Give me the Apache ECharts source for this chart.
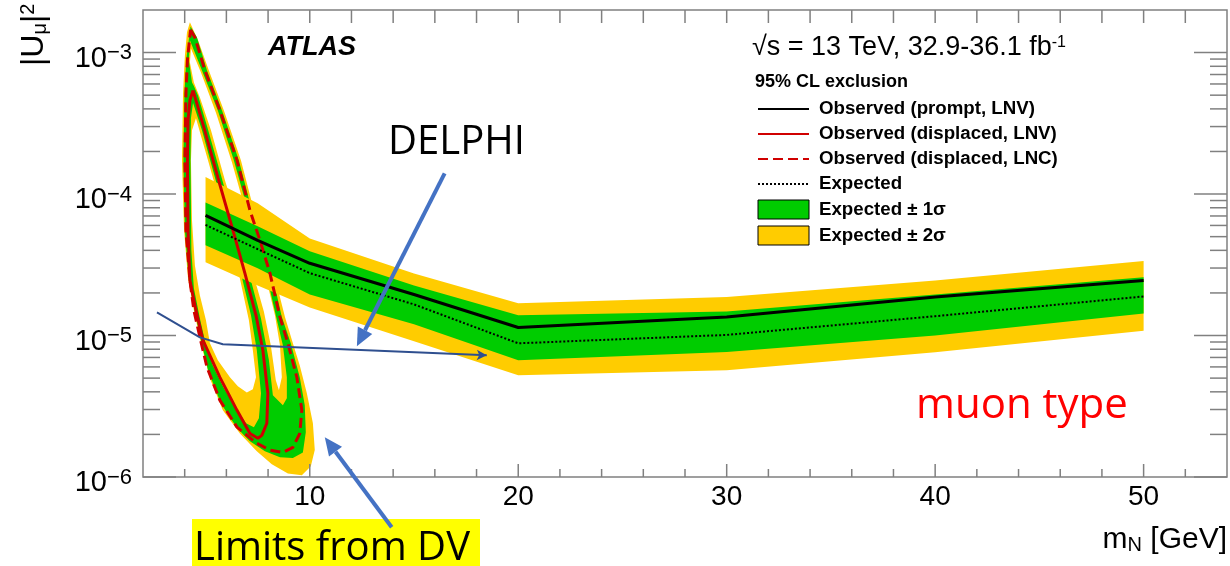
<!DOCTYPE html>
<html>
<head>
<meta charset="utf-8">
<script src="https://cdn.jsdelivr.net/npm/echarts@6.0.0/dist/echarts.min.js"></script>
<style>
  html, body { margin: 0; padding: 0; background: #fff; }
  #chart { width: 1230px; height: 566px; }
</style>
</head>
<body>
<div id="chart"></div>
<script>
// axis ranges
const X_MIN = 2, X_MAX = 54
const Y_MIN = 1e-6, Y_MAX = 2e-3

const xMajorTicks = [10, 20, 30, 40, 50]
const xMinorTicks = [4, 6, 8, 12, 14, 16, 18, 22, 24, 26, 28, 32, 34, 36, 38, 42, 44, 46, 48, 52]
const yMajorTicks = [1e-6, 1e-5, 1e-4, 1e-3]
const yMinorTicks = [
  2e-6, 3e-6, 4e-6, 5e-6, 6e-6, 7e-6, 8e-6, 9e-6,
  2e-5, 3e-5, 4e-5, 5e-5, 6e-5, 7e-5, 8e-5, 9e-5,
  2e-4, 3e-4, 4e-4, 5e-4, 6e-4, 7e-4, 8e-4, 9e-4
]

// prompt analysis (mN in GeV, |U|^2)
const promptMass = [5, 7.5, 10, 15, 20, 30, 40, 50]
const promptObserved = [7.06e-5, 4.71e-5, 3.24e-5, 1.95e-5, 1.14e-5, 1.35e-5, 1.87e-5, 2.45e-5]
const promptExpected = [6.05e-5, 4.08e-5, 2.76e-5, 1.66e-5, 8.81e-6, 1.01e-5, 1.37e-5, 1.89e-5]
const prompt1sUp = [8.73e-5, 5.91e-5, 3.94e-5, 2.26e-5, 1.39e-5, 1.48e-5, 1.95e-5, 2.58e-5]
const prompt1sDown = [4.34e-5, 2.99e-5, 1.95e-5, 1.2e-5, 6.68e-6, 7.65e-6, 1.0e-5, 1.43e-5]
const prompt2sUp = [1.32e-4, 8.6e-5, 4.86e-5, 2.74e-5, 1.69e-5, 1.87e-5, 2.45e-5, 3.36e-5]
const prompt2sDown = [3.29e-5, 2.26e-5, 1.58e-5, 9.1e-6, 5.23e-6, 5.68e-6, 7.61e-6, 1.08e-5]

// displaced vertex analysis, observed contours [mN, |U|^2]
const dvLnvObserved = [
  [4.40, 5.41e-4], [4.92, 2.96e-4], [5.59, 1.31e-4], [6.41, 4.94e-5], [6.89, 2.75e-5],
  [7.42, 1.39e-5], [7.75, 7.86e-6], [7.99, 3.91e-6], [7.94, 2.40e-6], [7.70, 1.97e-6],
  [7.51, 1.88e-6], [7.13, 2.03e-6], [6.51, 2.96e-6], [5.69, 5.06e-6], [4.88, 9.25e-6],
  [4.54, 1.51e-5], [4.25, 2.45e-5], [4.16, 5.54e-5], [4.13, 1.73e-4], [4.16, 3.32e-4],
  [4.25, 4.59e-4], [4.40, 5.41e-4]
]
const dvLncObserved = [
  [4.28, 1.45e-3], [4.49, 1.28e-3], [4.97, 7.48e-4], [5.69, 3.90e-4], [6.51, 1.73e-4],
  [7.13, 7.67e-5], [7.61, 4.71e-5], [8.09, 2.76e-5], [8.57, 1.35e-5], [8.95, 8.81e-6],
  [9.38, 5.07e-6], [9.62, 2.96e-6], [9.52, 2.03e-6], [9.19, 1.62e-6], [8.71, 1.49e-6],
  [8.09, 1.55e-6], [7.46, 1.73e-6], [6.51, 2.25e-6], [5.69, 3.48e-6], [5.07, 5.96e-6],
  [4.73, 9.7e-6], [4.44, 1.51e-5], [4.25, 2.45e-5], [4.06, 5.54e-5], [4.01, 1.73e-4],
  [4.06, 5.15e-4], [4.13, 8.81e-4], [4.28, 1.45e-3]
]

// displaced vertex expected bands: outer edges and holes
const dv2sOuter = [
  [4.25, 1.64e-3], [4.64, 1.22e-3], [5.16, 7.48e-4], [5.88, 3.90e-4], [6.70, 1.73e-4],
  [7.32, 7.67e-5], [7.80, 4.71e-5], [8.28, 2.76e-5], [8.81, 1.35e-5], [9.19, 8.81e-6],
  [9.52, 6.15e-6], [9.86, 3.91e-6], [10.15, 2.40e-6], [10.24, 1.55e-6], [10.05, 1.19e-6],
  [9.62, 1.03e-6], [8.95, 1.06e-6], [8.18, 1.23e-6], [7.46, 1.52e-6], [6.65, 2.03e-6],
  [5.83, 2.96e-6], [5.21, 4.97e-6], [4.78, 8.81e-6], [4.44, 1.51e-5], [4.16, 2.53e-5],
  [3.97, 5.54e-5], [3.87, 1.73e-4], [3.92, 5.15e-4], [4.01, 9.55e-4], [4.11, 1.39e-3]
]
const dv2sHoleLnv = [
  [4.54, 3.43e-4], [5.12, 1.73e-4], [5.79, 7.67e-5], [6.46, 3.40e-5], [6.79, 2.02e-5],
  [7.08, 1.28e-5], [7.27, 7.86e-6], [7.42, 5.07e-6], [7.27, 4.17e-6], [6.98, 3.96e-6],
  [6.55, 4.38e-6], [6.17, 5.07e-6], [5.59, 6.68e-6], [5.21, 8.81e-6], [5.02, 1.28e-5],
  [4.73, 1.92e-5], [4.49, 3.13e-5], [4.35, 6.52e-5], [4.30, 1.73e-4], [4.35, 2.82e-4]
]
const dv2sHoleLnc = [
  [4.30, 1.07e-3], [4.78, 7.24e-4], [5.50, 3.75e-4], [6.27, 1.67e-4], [6.94, 7.43e-5],
  [7.51, 4.00e-5], [7.99, 2.26e-5], [8.33, 1.39e-5], [8.57, 8.53e-6], [8.66, 5.07e-6],
  [8.52, 4.10e-6], [8.37, 4.82e-6], [8.13, 8.53e-6], [7.80, 1.47e-5], [7.42, 2.32e-5],
  [7.03, 3.69e-5], [6.65, 5.73e-5], [5.93, 1.25e-4], [5.26, 2.82e-4], [4.73, 4.82e-4],
  [4.44, 6.15e-4], [4.25, 8.5e-4]
]
const dv1sOuter = [
  [4.28, 1.53e-3], [4.59, 1.28e-3], [5.07, 7.48e-4], [5.79, 3.90e-4], [6.60, 1.73e-4],
  [7.22, 7.67e-5], [7.70, 4.71e-5], [8.18, 2.76e-5], [8.66, 1.35e-5], [9.09, 8.81e-6],
  [9.52, 5.07e-6], [9.76, 3.21e-6], [9.81, 2.07e-6], [9.67, 1.49e-6], [9.19, 1.36e-6],
  [8.57, 1.38e-6], [7.85, 1.52e-6], [7.13, 1.79e-6], [6.51, 2.22e-6], [5.74, 3.31e-6],
  [5.12, 5.68e-6], [4.78, 9.25e-6], [4.49, 1.46e-5], [4.20, 2.45e-5], [4.01, 5.54e-5],
  [3.94, 1.73e-4], [3.99, 5.15e-4], [4.08, 9.1e-4]
]
const dv1sHoleLnv = [
  [4.40, 4.40e-4], [4.83, 2.82e-4], [5.45, 1.31e-4], [6.22, 4.94e-5], [6.70, 2.75e-5],
  [7.18, 1.39e-5], [7.46, 7.86e-6], [7.66, 3.91e-6], [7.56, 2.60e-6], [7.32, 2.25e-6],
  [6.94, 2.40e-6], [6.46, 3.06e-6], [5.88, 4.24e-6], [5.35, 6.15e-6], [5.02, 8.53e-6],
  [4.73, 1.32e-5], [4.44, 2.16e-5], [4.32, 4.00e-5], [4.28, 1.73e-4], [4.30, 3.43e-4]
]
const dv1sHoleLnc = [
  [4.25, 1.22e-3], [4.83, 7.48e-4], [5.59, 3.90e-4], [6.36, 1.73e-4], [7.03, 7.67e-5],
  [7.51, 4.34e-5], [7.99, 2.45e-5], [8.37, 1.39e-5], [8.71, 8.53e-6], [8.90, 5.07e-6],
  [8.90, 3.60e-6], [8.71, 3.21e-6], [8.23, 3.78e-6], [8.04, 6.68e-6], [7.66, 1.32e-5],
  [7.22, 2.32e-5], [6.74, 3.88e-5], [6.41, 6.01e-5], [5.74, 1.36e-4], [5.09, 2.96e-4],
  [4.64, 4.98e-4], [4.44, 5.80e-4], [4.35, 6.15e-4], [4.20, 8.81e-4]
]

// DELPHI limit drawn on the slide
const delphiMass = [2.67, 4.73, 5.83, 18.49]
const delphiU2 = [1.46e-5, 9.71e-6, 8.67e-6, 7.24e-6]

// annotation arrows [tail, head]
const delphiArrow = [[16.47, 1.40e-4], [12.26, 8.39e-6]]
const dvArrow = [[13.93, 4.41e-7], [10.72, 1.91e-6]]

const YELLOW = '#ffcc00'
const GREEN = '#00cc00'
const RED = '#d00000'
const FRAME = '#808080'
const HELV = 'Liberation Sans, Arial, sans-serif'

const chart = echarts.init(document.getElementById('chart'))

function area(name, pts, color, z) {
  return {
    type: 'custom', name: name, z: z, silent: true,
    itemStyle: { color: color },
    data: [0],
    renderItem: function (params, api) {
      return {
        type: 'polygon',
        shape: { points: pts.map(function (p) { return api.coord(p) }) },
        style: { fill: color }
      }
    }
  }
}

function band(up, down) {
  const top = promptMass.map(function (m, i) { return [m, up[i]] })
  const bottom = promptMass.map(function (m, i) { return [m, down[i]] }).reverse()
  return top.concat(bottom)
}

function pairs(xs, ys) {
  return xs.map(function (x, i) { return [x, ys[i]] })
}

const delphiData = pairs(delphiMass, delphiU2).map(function (p, i, arr) {
  if (i < arr.length - 1) return p
  return { value: p, symbol: 'arrow', symbolSize: [8, 10], symbolRotate: -92 }
})

// legend entries for lines: keep the line, hide the centre marker
const lineLegend = { opacity: 0 }

const option = {
  animation: false,
  backgroundColor: '#fff',
  grid: {
    left: 143, right: 2, top: 10, bottom: 89,
    show: true, borderColor: FRAME, borderWidth: 1.5, backgroundColor: 'transparent'
  },
  xAxis: {
    type: 'value', min: X_MIN, max: X_MAX, interval: 2,
    axisLine: { show: false }, axisTick: { show: false }, splitLine: { show: false },
    axisLabel: {
      margin: 6, color: '#000', fontFamily: HELV, fontSize: 28,
      formatter: function (v) { return xMajorTicks.indexOf(v) >= 0 ? String(v) : '' }
    }
  },
  yAxis: {
    type: 'log', logBase: 10, min: Y_MIN, max: Y_MAX,
    axisLine: { show: false }, axisTick: { show: false }, splitLine: { show: false },
    axisLabel: {
      margin: 11, color: '#000',
      formatter: function (v) {
        const e = Math.log10(v), r = Math.round(e)
        if (Math.abs(e - r) > 1e-6) return ''
        return '{b|10}{s|\u2212' + (-r) + '}'
      },
      rich: {
        b: { fontFamily: HELV, fontSize: 29, color: '#000', padding: [12, 0, 0, 0] },
        s: { fontFamily: HELV, fontSize: 22, color: '#000', verticalAlign: 'top', padding: [10, 0, 0, 0] }
      }
    }
  },
  legend: {
    orient: 'vertical', left: 752, top: 94.5,
    itemWidth: 51, itemHeight: 19, itemGap: 6,
    selectedMode: false,
    textStyle: { fontFamily: HELV, fontWeight: 'bold', fontSize: 18.7, color: '#000', lineHeight: 19, padding: [0, 0, 0, 5] },
    data: [
      { name: 'Observed (prompt, LNV)', itemStyle: lineLegend },
      { name: 'Observed (displaced, LNV)', itemStyle: lineLegend },
      { name: 'Observed (displaced, LNC)', itemStyle: lineLegend },
      { name: 'Expected', itemStyle: lineLegend },
      { name: 'Expected \u00b1 1\u03c3', icon: 'rect', itemStyle: { color: GREEN, borderColor: '#000', borderWidth: 1 } },
      { name: 'Expected \u00b1 2\u03c3', icon: 'rect', itemStyle: { color: YELLOW, borderColor: '#000', borderWidth: 1 } }
    ]
  },
  series: [
    area('Expected \u00b1 2\u03c3', dv2sOuter, YELLOW, 1),
    area('Expected \u00b1 1\u03c3', dv1sOuter, GREEN, 1),
    area('dv-1s-hole-lnv', dv1sHoleLnv, YELLOW, 1),
    area('dv-1s-hole-lnc', dv1sHoleLnc, YELLOW, 1),
    area('dv-2s-hole-lnv', dv2sHoleLnv, '#fff', 1),
    area('dv-2s-hole-lnc', dv2sHoleLnc, '#fff', 1),
    area('Expected \u00b1 2\u03c3', band(prompt2sUp, prompt2sDown), YELLOW, 2),
    area('Expected \u00b1 1\u03c3', band(prompt1sUp, prompt1sDown), GREEN, 2),
    {
      type: 'line', name: 'Observed (displaced, LNC)', z: 3, symbol: 'none', silent: true,
      data: dvLncObserved, lineStyle: { color: RED, width: 3, type: [10, 5] }, itemStyle: { color: RED }
    },
    {
      type: 'line', name: 'Observed (displaced, LNV)', z: 3, symbol: 'none', silent: true,
      data: dvLnvObserved, lineStyle: { color: RED, width: 3 }, itemStyle: { color: RED }
    },
    {
      type: 'line', name: 'Expected', z: 4, symbol: 'none', silent: true,
      data: pairs(promptMass, promptExpected), lineStyle: { color: '#000', width: 2, type: [2, 2] }, itemStyle: { color: '#000' }
    },
    {
      type: 'line', name: 'Observed (prompt, LNV)', z: 4, symbol: 'none', silent: true,
      data: pairs(promptMass, promptObserved), lineStyle: { color: '#000', width: 3 }, itemStyle: { color: '#000' }
    },
    {
      type: 'line', name: 'DELPHI', z: 5, symbol: 'none', showSymbol: true, silent: true,
      data: delphiData, lineStyle: { color: '#2f4f8f', width: 2 }, itemStyle: { color: '#2f4f8f' }
    },
    {
      type: 'custom', name: 'x-ticks', z: 6, silent: true,
      data: xMinorTicks.map(function (v) { return [v, 0] }).concat(xMajorTicks.map(function (v) { return [v, 1] })),
      renderItem: function (params, api) {
        const v = api.value(0), major = api.value(1)
        const b = api.coord([v, Y_MIN]), t = api.coord([v, Y_MAX])
        const lb = major ? 13 : 8
        return {
          type: 'group', children: [
            { type: 'line', shape: { x1: b[0], y1: b[1], x2: b[0], y2: b[1] - lb }, style: { stroke: FRAME, lineWidth: 1.5 } },
            { type: 'line', shape: { x1: t[0], y1: t[1], x2: t[0], y2: t[1] + 13 }, style: { stroke: FRAME, lineWidth: 1.5 } }
          ]
        }
      }
    },
    {
      type: 'custom', name: 'y-ticks', z: 6, silent: true,
      data: yMinorTicks.map(function (v) { return [v, 0] }).concat(yMajorTicks.map(function (v) { return [v, 1] })),
      renderItem: function (params, api) {
        const v = api.value(0), major = api.value(1)
        const l = api.coord([X_MIN, v]), r = api.coord([X_MAX, v])
        const len = major ? 33 : 17
        return {
          type: 'group', children: [
            { type: 'line', shape: { x1: l[0], y1: l[1], x2: l[0] + len, y2: l[1] }, style: { stroke: FRAME, lineWidth: 1.5 } },
            { type: 'line', shape: { x1: r[0], y1: r[1], x2: r[0] - len, y2: r[1] }, style: { stroke: FRAME, lineWidth: 1.5 } }
          ]
        }
      }
    }
  ]
}

chart.setOption(option)

function arrow(pair, width, head) {
  const a = chart.convertToPixel({ gridIndex: 0 }, pair[0])
  const b = chart.convertToPixel({ gridIndex: 0 }, pair[1])
  const dx = b[0] - a[0], dy = b[1] - a[1]
  const len = Math.sqrt(dx * dx + dy * dy), ux = dx / len, uy = dy / len
  const bx = b[0] - ux * head, by = b[1] - uy * head
  const w = head * 0.45
  return [
    { type: 'line', z: 100, shape: { x1: a[0], y1: a[1], x2: bx, y2: by }, style: { stroke: '#4472c4', lineWidth: width } },
    { type: 'polygon', z: 100, shape: { points: [[b[0], b[1]], [bx - uy * w, by + ux * w], [bx + uy * w, by - ux * w]] }, style: { fill: '#4472c4' } }
  ]
}

const graphics = [
  { type: 'text', z: 100, x: 268, y: 48, style: { text: 'ATLAS', font: 'italic bold 27px ' + HELV, fill: '#000', verticalAlign: 'middle' } },
  {
    type: 'text', z: 100, x: 752, y: 48,
    style: {
      text: '{a|\u221as = 13 TeV, 32.9-36.1 fb}{s|-1}', verticalAlign: 'middle',
      rich: { a: { fontFamily: HELV, fontSize: 27, fill: '#000' }, s: { fontFamily: HELV, fontSize: 16, fill: '#000', verticalAlign: 'top' } }
    }
  },
  { type: 'text', z: 100, x: 755, y: 82, style: { text: '95% CL exclusion', font: 'bold 18px ' + HELV, fill: '#000', verticalAlign: 'middle' } },
  {
    type: 'text', z: 100, x: 34, y: 66, rotation: Math.PI / 2,
    style: {
      text: '{a||U}{s|\u03bc}{a||}{p|2}', align: 'left', verticalAlign: 'middle',
      rich: {
        a: { fontFamily: HELV, fontSize: 32, fill: '#000' },
        s: { fontFamily: HELV, fontSize: 20, fill: '#000', verticalAlign: 'bottom' },
        p: { fontFamily: HELV, fontSize: 20, fill: '#000', verticalAlign: 'top' }
      }
    }
  },
  {
    type: 'text', z: 100, x: 1227, y: 540,
    style: {
      text: '{a|m}{s|N}{a| [GeV]}', align: 'right', verticalAlign: 'middle',
      rich: {
        a: { fontFamily: HELV, fontSize: 30, fill: '#000' },
        s: { fontFamily: HELV, fontSize: 20, fill: '#000', verticalAlign: 'bottom' }
      }
    }
  },
  { type: 'text', z: 100, x: 388, y: 143, style: { text: 'DELPHI', font: '40px Open Sans', fill: '#000', verticalAlign: 'middle' } },
  { type: 'text', z: 100, x: 916, y: 406, style: { text: 'muon type', font: '42px Open Sans', fill: '#ff0000', verticalAlign: 'middle' } },
  { type: 'rect', z: 99, shape: { x: 192, y: 519, width: 288, height: 50 }, style: { fill: '#ffff00' } },
  { type: 'text', z: 100, x: 194, y: 549, style: { text: 'Limits from DV', font: '40px Open Sans', fill: '#000', verticalAlign: 'middle' } }
].concat(arrow(delphiArrow, 4, 18)).concat(arrow(dvArrow, 4, 18))

chart.setOption({ graphic: graphics })
</script>
</body>
</html>
